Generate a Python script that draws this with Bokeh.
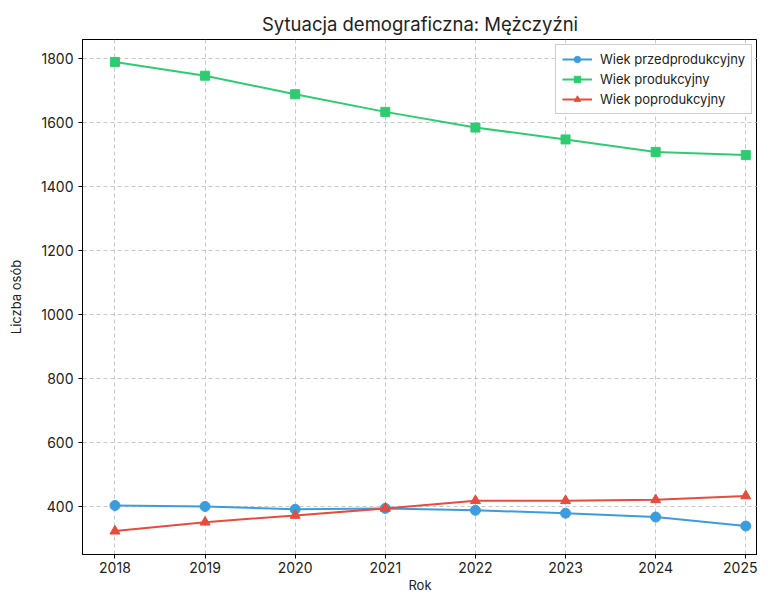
from bokeh.plotting import figure
from bokeh.models import Range1d, FixedTicker, Legend, LegendItem
from bokeh.embed import file_html
from bokeh.resources import INLINE

years = [2018, 2019, 2020, 2021, 2022, 2023, 2024, 2025]
przed = [403, 400, 391, 394, 388, 379, 367, 339]
prod = [1788, 1745, 1687, 1632, 1583, 1546, 1507, 1497]
poprod = [323, 351, 372, 394, 418, 418, 421, 433]
y_ticks = [400, 600, 800, 1000, 1200, 1400, 1600, 1800]

FONT = "Inter"

p = figure(width=757, height=595, output_backend="svg", toolbar_location=None,
           x_range=Range1d(2017.64, 2025.13), y_range=Range1d(250, 1858),
           title="Sytuacja demograficzna: Mężczyźni")
p.min_border_left = 82
p.min_border_right = 0
p.min_border_top = 39
p.min_border_bottom = 30

p.title.align = "center"
p.title.text_font = FONT
p.title.text_font_size = "18.5px"
p.title.text_font_style = "normal"
p.title.text_color = "#222222"

p.outline_line_color = "black"
p.outline_line_width = 1
p.outline_line_alpha = 1

for ax in (p.xaxis[0], p.yaxis[0]):
    ax.major_label_text_font = FONT
    ax.major_label_text_font_size = "14px"
    ax.major_label_text_color = "#222222"
    ax.axis_label_text_font = FONT
    ax.axis_label_text_font_size = "13px"
    ax.axis_label_text_font_style = "normal"
    ax.axis_label_text_color = "#222222"
    ax.minor_tick_line_color = None
    ax.major_tick_in = 0
    ax.major_tick_out = 4
    ax.axis_line_color = "black"

p.xaxis[0].ticker = FixedTicker(ticks=years)
p.yaxis[0].ticker = FixedTicker(ticks=y_ticks)
p.xaxis[0].axis_label = "Rok"
p.yaxis[0].axis_label = "Liczba osób"
p.xaxis[0].axis_label_standoff = 1
p.xaxis[0].major_label_standoff = 3
p.yaxis[0].axis_label_standoff = 14

for g in (p.xgrid[0], p.ygrid[0]):
    g.grid_line_color = "#b0b0b0"
    g.grid_line_alpha = 0.7
    g.grid_line_dash = "4 3"
    g.grid_line_width = 1

blue = "#3b9ddd"
green = "#2ecc71"
red = "#e74c3c"

l1 = p.line(years, przed, line_color=blue, line_width=2)
m1 = p.scatter(years, przed, marker="circle", size=10, fill_color=blue, line_color=blue)
l2 = p.line(years, prod, line_color=green, line_width=2)
m2 = p.scatter(years, prod, marker="square", size=9, fill_color=green, line_color=green)
l3 = p.line(years, poprod, line_color=red, line_width=2)
m3 = p.scatter(years, poprod, marker="triangle", size=10, fill_color=red, line_color=red)

legend = Legend(items=[
    LegendItem(label="Wiek przedprodukcyjny", renderers=[l1, m1]),
    LegendItem(label="Wiek produkcyjny", renderers=[l2, m2]),
    LegendItem(label="Wiek poprodukcyjny", renderers=[l3, m3]),
], location="top_right")
legend.label_text_font = FONT
legend.label_text_font_size = "13px"
legend.label_text_color = "#222222"
legend.border_line_color = "#cccccc"
legend.border_line_alpha = 1
legend.background_fill_alpha = 0.85
legend.glyph_width = 30
legend.glyph_height = 16
legend.label_height = 16
legend.spacing = 4
legend.padding = 6
legend.margin = 5
legend.label_standoff = 8
p.add_layout(legend, "center")

open("out.html", "w").write(file_html(p, INLINE))
